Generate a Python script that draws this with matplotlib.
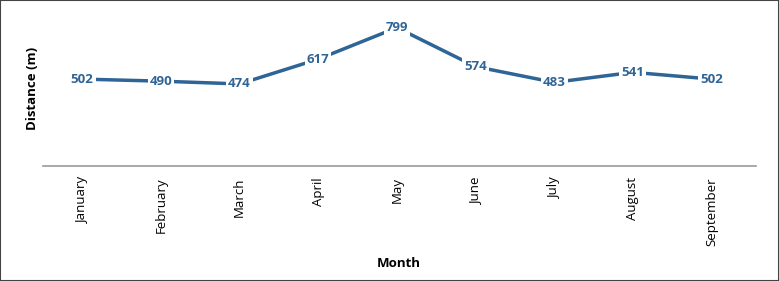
import matplotlib.pyplot as plt
from matplotlib.patches import Rectangle

months = ["January", "February", "March", "April", "May", "June",
          "July", "August", "September"]
distance = [502, 490, 474, 617, 799, 574, 483, 541, 502]

line_color = "#2f6496"
plt.rcParams['font.family'] = ['Open Sans', 'DejaVu Sans']

fig = plt.figure(figsize=(7.79, 2.81), dpi=100)
ax = fig.add_axes([0.055, 0.409, 0.915, 0.555])

x = list(range(len(months)))
ax.plot(x, distance, color=line_color, linewidth=2.5, solid_capstyle='butt', zorder=2)
for xi, v in zip(x, distance):
    ax.text(xi, v, str(v), ha='center', va='center', fontsize=9.5,
            fontweight='bold', color=line_color, zorder=3,
            bbox=dict(boxstyle='square,pad=0.15', fc='white', ec='none'))

ax.set_xlim(-0.5, len(months) - 0.5 + 0.06)
ax.set_ylim(0, 900)
ax.set_xticks(x)
ax.set_xticklabels(months, rotation=90, fontsize=9.5)
ax.tick_params(axis='x', length=0, pad=8)
ax.set_yticks([])
for side in ['top', 'right', 'left']:
    ax.spines[side].set_visible(False)
ax.spines['bottom'].set_color('#999999')
ax.spines['bottom'].set_linewidth(1.2)

ax.set_xlabel("Month", fontsize=9.5, fontweight='bold', labelpad=8)
ax.set_ylabel("Distance (m)", fontsize=9.5, fontweight='bold', labelpad=3)

fig.patches.append(Rectangle((0, 0), 1, 1, transform=fig.transFigure,
                             fill=False, ec='#444444', lw=1.5))

fig.savefig("out.png", dpi=100)
